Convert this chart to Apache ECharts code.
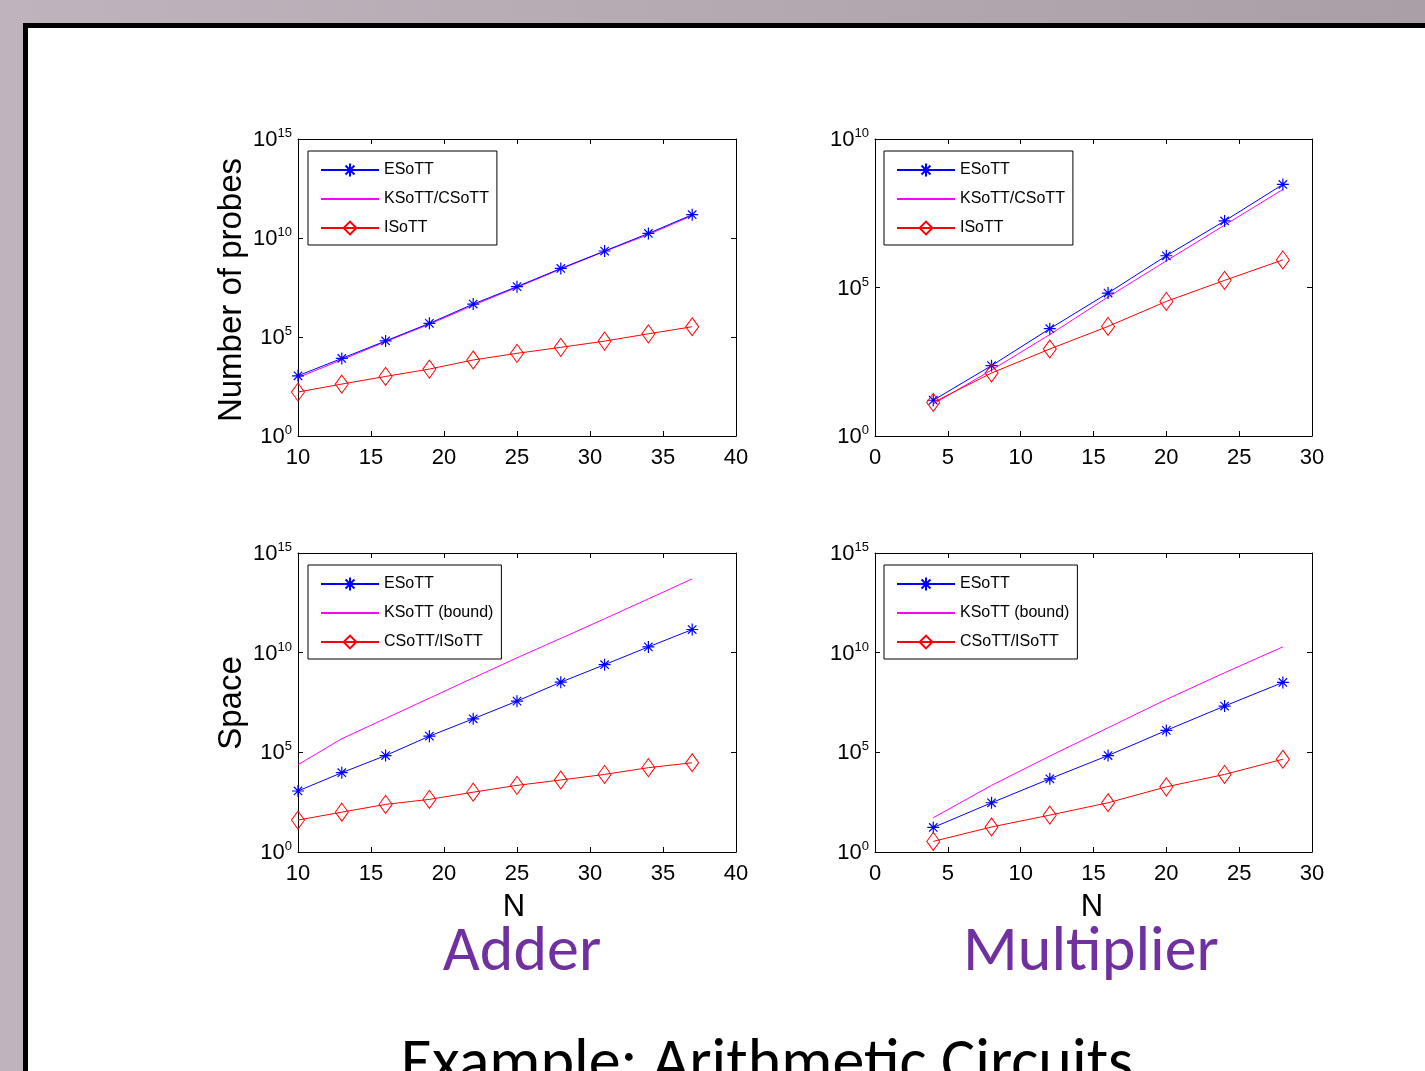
<!DOCTYPE html>
<html><head><meta charset="utf-8">
<script src="https://cdn.jsdelivr.net/npm/echarts@6/dist/echarts.min.js"></script>
<style>
html,body{margin:0;padding:0;width:1425px;height:1071px;overflow:hidden;background:linear-gradient(to right,#bfb3bd,#aa9ea7);}
#slide{position:absolute;left:23px;top:23px;width:1500px;height:1200px;background:#fff;border:5px solid #000;box-sizing:border-box;}
#chart{position:absolute;left:0;top:0;width:1425px;height:1071px;}
</style></head><body><div id="slide"></div><div id="chart"></div>
<script>
// ---------------- data ----------------
const adderN = [10, 13, 16, 19, 22, 25, 28, 31, 34, 37];
const multN = [4, 8, 12, 16, 20, 24, 28];

// Adder: number of probes
const adderProbesE = [1.1e3, 8.3e3, 6.3e4, 4.9e5, 4.6e6, 3.5e7, 2.9e8, 2.2e9, 1.7e10, 1.5e11];
const adderProbesKC = [8.9e2, 7.1e3, 5.8e4, 4.4e5, 4.0e6, 3.2e7, 2.7e8, 2.1e9, 1.5e10, 1.35e11];
const adderProbesI = [1.66e2, 4.2e2, 1.02e3, 2.4e3, 6.9e3, 1.5e4, 3.0e4, 6.2e4, 1.45e5, 3.3e5];

// Multiplier: number of probes
const multProbesE = [16, 234, 4.1e3, 6.5e4, 1.17e6, 1.74e7, 2.95e8];
const multProbesKC = [12, 166, 2.6e3, 4.8e4, 7.9e5, 1.26e7, 2.0e8];
const multProbesI = [13.5, 132, 850, 4.9e3, 3.4e4, 1.74e5, 8.5e5];

// Adder: space
const adderSpaceE = [1.15e3, 9.5e3, 6.9e4, 6.5e5, 4.8e6, 3.7e7, 3.3e8, 2.5e9, 1.95e10, 1.45e11];
const adderSpaceK = [2.4e4, 4.8e5, 5.0e6, 5.2e7, 5.4e8, 5.5e9, 5.2e10, 5.0e11, 5.0e12, 5.0e13];
const adderSpaceCI = [40, 100, 245, 436, 1.0e3, 2.2e3, 4.1e3, 7.8e3, 1.7e4, 3.0e4];

// Multiplier: space
const multSpaceE = [17, 295, 4.7e3, 6.9e4, 1.26e6, 2.1e7, 3.2e8];
const multSpaceK = [52, 2.2e3, 6.5e4, 1.7e6, 4.5e7, 9.8e8, 1.95e10];
const multSpaceCI = [3.4, 18, 71, 295, 1.86e3, 7.8e3, 4.5e4];

const legendProbes = ['ESoTT', 'KSoTT/CSoTT', 'ISoTT'];
const legendSpace = ['ESoTT', 'KSoTT (bound)', 'CSoTT/ISoTT'];

// ---------------- style ----------------
const F = "'Liberation Sans Narrow','Arial Narrow','Liberation Sans',Arial,sans-serif";
const FA = "'Liberation Sans',Arial,sans-serif";
const FC = "Carlito,Calibri,Lato,'Open Sans',sans-serif";
const BLUE = '#0000ff', MAG = '#ff00ff', RED = '#ff0000';
const STAR = 'path://M6,0L6,12M0,6L12,6M1.8,1.8L10.2,10.2M1.8,10.2L10.2,1.8';

const grids = [
  {left: 298, top: 139, width: 438, height: 297},
  {left: 875, top: 139, width: 437, height: 297},
  {left: 298, top: 553, width: 438, height: 299},
  {left: 875, top: 553, width: 437, height: 299}
];
const xr = [[10, 40], [0, 30], [10, 40], [0, 30]];
const ymax = [1e15, 1e10, 1e15, 1e15];

const xAxis = [], yAxis = [];
grids.forEach((g, i) => {
  const common = {
    gridIndex: i, type: 'value', min: xr[i][0], max: xr[i][1], interval: 5,
    axisLine: {show: true, onZero: false, lineStyle: {color: '#000', width: 1}},
    axisTick: {show: true, inside: true, length: 5, lineStyle: {color: '#000'}},
    splitLine: {show: false}
  };
  xAxis.push(Object.assign({}, common, {
    position: 'bottom',
    axisLabel: {show: true, margin: 11, fontFamily: F, fontSize: 22, color: '#000'}
  }));
  xAxis.push(Object.assign({}, common, {position: 'top', axisLabel: {show: false}}));
  const yc = {
    gridIndex: i, type: 'log', logBase: 10, min: 1, max: ymax[i], interval: 5,
    axisLine: {show: true, onZero: false, lineStyle: {color: '#000', width: 1}},
    axisTick: {show: true, inside: true, length: 5, lineStyle: {color: '#000'}},
    splitLine: {show: false}, minorTick: {show: false}
  };
  yAxis.push(Object.assign({}, yc, {
    position: 'left',
    axisLabel: {
      show: true, margin: 6, color: '#000',
      formatter: v => '{a|10}{e|' + Math.round(Math.log10(v)) + '}',
      rich: {
        a: {fontFamily: F, fontSize: 22, lineHeight: 24, verticalAlign: 'bottom', color: '#000'},
        e: {fontFamily: F, fontSize: 13, lineHeight: 13, verticalAlign: 'top', color: '#000'}
      }
    }
  }));
  yAxis.push(Object.assign({}, yc, {position: 'right', axisLabel: {show: false}}));
});

function pts(xs, ys) { return xs.map((x, k) => [x, ys[k]]); }
function sE(i, xs, ys) {
  return {name: 'ESoTT', type: 'line', xAxisIndex: 2 * i, yAxisIndex: 2 * i, data: pts(xs, ys),
    symbol: STAR, symbolSize: 12, showAllSymbol: true, z: 4,
    lineStyle: {color: BLUE, width: 1}, itemStyle: {color: 'rgba(0,0,0,0)', borderColor: BLUE, borderWidth: 1.2}};
}
function sK(i, name, xs, ys) {
  return {name: name, type: 'line', xAxisIndex: 2 * i, yAxisIndex: 2 * i, data: pts(xs, ys),
    symbol: 'none', z: 3, lineStyle: {color: MAG, width: 1}, itemStyle: {color: MAG}};
}
function sI(i, name, xs, ys) {
  return {name: name, type: 'line', xAxisIndex: 2 * i, yAxisIndex: 2 * i, data: pts(xs, ys),
    symbol: 'diamond', symbolSize: [13, 18], showAllSymbol: true, z: 5,
    lineStyle: {color: RED, width: 1}, itemStyle: {color: 'rgba(0,0,0,0)', borderColor: RED, borderWidth: 1}};
}

const series = [
  sE(0, adderN, adderProbesE), sK(0, legendProbes[1], adderN, adderProbesKC), sI(0, legendProbes[2], adderN, adderProbesI),
  sE(1, multN, multProbesE), sK(1, legendProbes[1], multN, multProbesKC), sI(1, legendProbes[2], multN, multProbesI),
  sE(2, adderN, adderSpaceE), sK(2, legendSpace[1], adderN, adderSpaceK), sI(2, legendSpace[2], adderN, adderSpaceCI),
  sE(3, multN, multSpaceE), sK(3, legendSpace[1], multN, multSpaceK), sI(3, legendSpace[2], multN, multSpaceCI)
];

const HIDE = {color: 'rgba(0,0,0,0)', borderColor: 'rgba(0,0,0,0)', borderWidth: 0, opacity: 0};
function leg(left, top, names) {
  return {left: left, top: top, orient: 'vertical', selectedMode: false,
    data: [{name: names[0]}, {name: names[1], itemStyle: HIDE}, {name: names[2]}],
    itemWidth: 58, itemHeight: 16, itemGap: 13, padding: [11, 8, 9, 12],
    borderColor: '#000', borderWidth: 1, backgroundColor: '#fff',
    textStyle: {fontFamily: F, fontSize: 16, color: '#000'}};
}

const txt = (x, y, s, size, fam, color, extra) => Object.assign({
  type: 'text', x: x, y: y, silent: true,
  style: {text: s, fontSize: size, fontFamily: fam, fill: color, textAlign: 'center', textVerticalAlign: 'middle'}
}, extra || {});

const option = {
  animation: false,
  grid: grids,
  xAxis: xAxis,
  yAxis: yAxis,
  legend: [leg(308, 151, legendProbes), leg(884, 151, legendProbes), leg(308, 565, legendSpace), leg(884, 565, legendSpace)],
  series: series,
  graphic: [
    txt(232, 290, 'Number of probes', 33, FA, '#000', {rotation: Math.PI / 2}),
    txt(232, 703, 'Space', 33, FA, '#000', {rotation: Math.PI / 2}),
    txt(514, 907, 'N', 31, F, '#000'),
    txt(1092, 907, 'N', 31, F, '#000'),
    txt(522, 954, 'Adder', 64, FC, '#7030a0'),
    txt(1091, 954, 'Multiplier', 64, FC, '#7030a0'),
    txt(767, 1066, 'Example: Arithmetic Circuits', 64, FC, '#000')
  ]
};
const chart = echarts.init(document.getElementById('chart'), null, {renderer: 'canvas'});
chart.setOption(option);
</script></body></html>
